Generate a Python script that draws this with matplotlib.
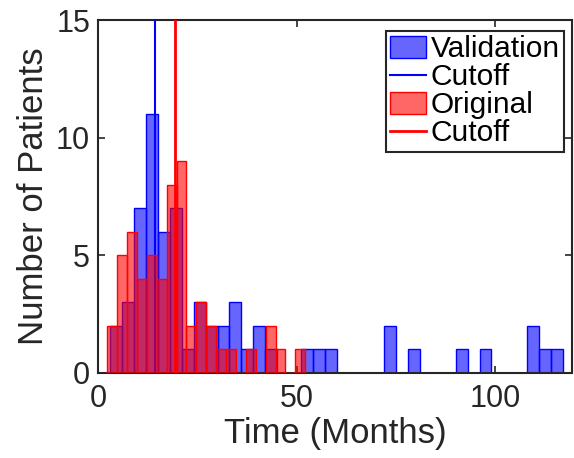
import matplotlib
matplotlib.use('Agg')
import matplotlib.pyplot as plt
import numpy as np

# Validation cohort: 3-month bins starting at 3 months
val_bin_start = 3.0
val_bin_width = 3.0
val_counts = [2, 3, 7, 11, 6, 7, 1, 3, 2, 2, 3, 1, 2, 1, 0, 0, 1, 1, 1,
              0, 0, 0, 0, 2, 0, 1, 0, 0, 0, 1, 0, 1, 0, 0, 0, 2, 1, 1]
val_cutoff = 14.3

# Original cohort: 20 bins between ~2.2 and ~52.1 months
orig_bin_start = 2.18
orig_bin_width = 2.496
orig_counts = [2, 5, 6, 4, 5, 4, 8, 9, 2, 3, 2, 1, 1, 0, 1, 0, 2, 1, 0, 1]
orig_cutoff = 19.3

x_label = 'Time (Months)'
y_label = 'Number of Patients'
x_ticks = [0, 50, 100]
y_ticks = [0, 5, 10, 15]

plt.rcParams['font.family'] = ['Liberation Sans', 'DejaVu Sans']
dark = '#262626'

fig = plt.figure(figsize=(5.74, 4.58), dpi=100)
ax = fig.add_axes([0.1716, 0.1856, 0.825, 0.7707])

val_left = val_bin_start + val_bin_width * np.arange(len(val_counts))
orig_left = orig_bin_start + orig_bin_width * np.arange(len(orig_counts))

h_val = ax.bar(val_left, val_counts, width=val_bin_width, align='edge',
               facecolor=(0, 0, 1, 0.6), edgecolor='blue', linewidth=1.0,
               label='Validation', zorder=2)
h_vcut = ax.axvline(val_cutoff, color='blue', linewidth=1.5, label='Cutoff', zorder=3)
h_orig = ax.bar(orig_left, orig_counts, width=orig_bin_width, align='edge',
                facecolor=(1, 0, 0, 0.6), edgecolor='red', linewidth=1.0,
                label='Original', zorder=4)
h_ocut = ax.axvline(orig_cutoff, color='red', linewidth=2.0, label='Cutoff', zorder=5)

ax.set_xlim(0, 119.3)
ax.set_ylim(0, 15)
ax.set_xticks(x_ticks)
ax.set_yticks(y_ticks)

for s in ax.spines.values():
    s.set_color(dark)
    s.set_linewidth(1.5)
ax.tick_params(direction='in', length=5, width=1.2, colors=dark,
               labelsize=22, top=True, right=True)
ax.tick_params(axis='x', pad=8)
ax.tick_params(axis='y', pad=6)

ax.set_xlabel(x_label, fontsize=25, color=dark, labelpad=2)
ax.set_ylabel(y_label, fontsize=25, color=dark, labelpad=4)

leg = ax.legend([h_val, h_vcut, h_orig, h_ocut],
                ['Validation', 'Cutoff', 'Original', 'Cutoff'],
                loc='upper right', bbox_to_anchor=(0.983, 0.969),
                borderaxespad=0, fontsize=21.5, handlelength=1.2,
                handleheight=0.8, handletextpad=0.15, labelspacing=0.0,
                borderpad=0.15, fancybox=False, framealpha=1)
leg.get_frame().set_edgecolor(dark)
leg.get_frame().set_linewidth(1.5)

fig.savefig('out.png', dpi=100)
